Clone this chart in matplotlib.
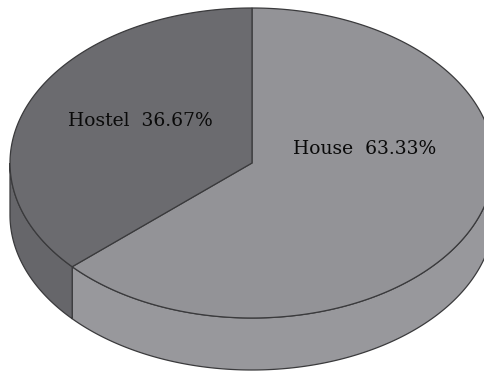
import matplotlib
matplotlib.use("Agg")
import matplotlib.pyplot as plt
from matplotlib.patches import Polygon
import numpy as np

labels = ["House", "Hostel"]
values = [63.33, 36.67]
top_colors = ["#939397", "#6b6b6f"]
side_colors = ["#98989c", "#66666a"]

# ellipse geometry in pixels (y grows downward)
cx, cy = 252, 163
a, b = 242, 155
depth = 52

fig = plt.figure(figsize=(4.84, 3.76), dpi=100)
ax = fig.add_axes([0, 0, 1, 1])
ax.set_xlim(0, 484)
ax.set_ylim(376, 0)
ax.axis("off")


def pt(theta, dy=0):
    t = np.radians(theta)
    return cx + a * np.cos(t), cy - b * np.sin(t) + dy


# wedge angles: Hostel starts at top going counterclockwise, House fills the rest
total = sum(values)
hostel_span = values[1] / total * 360
spans = {
    "Hostel": (90, 90 + hostel_span),
    "House": (90 + hostel_span, 450),
}

# side walls (only front half, 180..360)
for lab, col in zip(labels, side_colors):
    t1, t2 = spans[lab]
    s1, s2 = max(t1, 180), min(t2, 360)
    if s2 <= s1:
        continue
    th = np.linspace(s1, s2, 200)
    xs, ys = pt(th)
    xb, yb = pt(th[::-1], depth)
    poly = np.column_stack([np.concatenate([xs, xb]), np.concatenate([ys, yb])])
    ax.add_patch(Polygon(poly, closed=True, facecolor=col, edgecolor="#3a3a3c", linewidth=0.9))

# top faces
for lab, col in zip(labels, top_colors):
    t1, t2 = spans[lab]
    th = np.linspace(t1, t2, 400)
    xs, ys = pt(th)
    poly = np.column_stack([np.concatenate([[cx], xs]), np.concatenate([[cy], ys])])
    ax.add_patch(Polygon(poly, closed=True, facecolor=col, edgecolor="#3a3a3c", linewidth=0.9))

# labels
pos = {"Hostel": (140, 121), "House": (365, 149)}
for lab, v in zip(labels, values):
    x, y = pos[lab]
    ax.text(x, y, f"{lab}  {v:.2f}%", ha="center", va="center",
            fontsize=13.5, family="DejaVu Serif", color="#0a0a0a")

fig.savefig("out.png", dpi=100)
